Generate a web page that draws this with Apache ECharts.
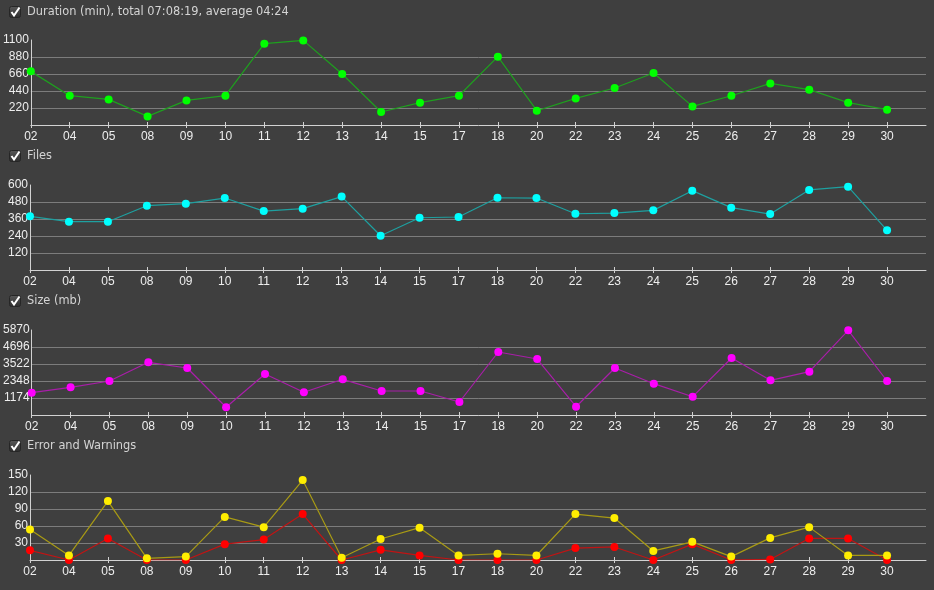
<!DOCTYPE html>
<html>
<head>
<meta charset="utf-8">
<script src="https://cdn.jsdelivr.net/npm/echarts@6/dist/echarts.min.js"></script>
<style>
html,body{margin:0;padding:0;background:#3f3f3f;}
#chart{width:934px;height:590px;}
</style>
</head>
<body>
<div id="chart"></div>
<script>
const categories = ['02','04','05','08','09','10','11','12','13','14','15','17','18','20','22','23','24','25','26','27','28','29','30'];
const durationValues = [694,379,331,111,318,379,1052,1095,660,168,289,379,884,185,344,479,673,241,379,538,457,289,198];
const filesValues = [379,341,341,454,468,508,416,433,518,242,369,374,510,508,397,402,421,560,440,395,565,588,280];
const sizeValues = [1540,1913,2348,3639,3246,532,2831,1568,2465,1657,1657,898,4351,3867,573,3246,2162,1264,3936,2396,2990,5849,2348];
const warningValues = [54,8,104,3,6,76,58,141,4,37,57,8,11,8,81,74,16,32,6,39,58,8,8];
const errorValues = [17,0,38,0,0,28,36,81,0,18,8,0,0,0,21,23,0,28,0,1,38,38,0];
const panelTitles = ['Duration (min), total 07:08:19, average 04:24','Files','Size (mb)','Error and Warnings'];
const durationTicks = {max:1100, interval:220};
const filesTicks = {max:600, interval:120};
const sizeTicks = {max:5870, interval:1174};
const errorTicks = {max:150, interval:30};

const axisCats = categories.concat(['']);
const panelTops = [40,185,330,475];
const titleY = [12,156,301,446];
const ticks = [durationTicks, filesTicks, sizeTicks, errorTicks];
const FONT = 'Liberation Sans';

const grids = [], xAxes = [], yAxes = [], graphics = [];
panelTops.forEach((t,i)=>{
  grids.push({left:30, right:8, top:t, height:85, containLabel:false});
  xAxes.push({
    type:'category', gridIndex:i, data:axisCats, boundaryGap:false, position:'bottom',
    axisLine:{show:true, lineStyle:{color:'#d2d2d2', width:1}},
    axisTick:{show:true, inside:false, length:3, lineStyle:{color:'#d2d2d2'},
      interval:(idx)=> idx < categories.length, alignWithLabel:true},
    axisLabel:{show:true, interval:0, color:'#eeeeee', fontSize:12, fontFamily:FONT, margin:6},
    splitLine:{show:false}
  });
  xAxes.push({
    type:'category', gridIndex:i, data:axisCats, boundaryGap:false, position:'bottom',
    axisLine:{show:false},
    axisTick:{show:true, inside:true, length:3, lineStyle:{color:'#d2d2d2'},
      interval:(idx)=> idx < categories.length},
    axisLabel:{show:false}, splitLine:{show:false}
  });
  yAxes.push({
    type:'value', gridIndex:i, min:0, max:ticks[i].max, interval:ticks[i].interval,
    axisLine:{show:true, lineStyle:{color:'#d2d2d2', width:1}},
    axisTick:{show:false},
    axisLabel:{color:'#eeeeee', fontSize:12, fontFamily:FONT, margin:2,
      formatter:(v)=> v===0 ? '' : String(v)},
    splitLine:{show:true, showMinLine:false, showMaxLine:false, lineStyle:{color:'#7c7c7c', width:1}}
  });
  // checkbox
  const by = titleY[i]-6;
  graphics.push({type:'rect', shape:{x:9.5, y:by+0.5, width:11, height:11, r:2},
    style:{fill:{type:'linear',x:0,y:0,x2:0,y2:1,colorStops:[{offset:0,color:'#5a5a5a'},{offset:1,color:'#2c2c2c'}]}, stroke:'#262626', lineWidth:1}});
  graphics.push({type:'polyline', shape:{points:[[11.5,by+6],[14,by+9.5],[19.5,by+1.5]]},
    style:{stroke:'#ffffff', lineWidth:2, fill:null}});
  graphics.push({type:'text', x:27, y:titleY[i], style:{text:panelTitles[i], fill:'#d4d4d4', font:'11.4px "DejaVu Sans"', verticalAlign:'middle', align:'left'}});
});

function mk(name, data, gi, lineColor, dotColor){
  return {name, type:'line', xAxisIndex:gi*2, yAxisIndex:gi, data,
    symbol:'circle', symbolSize:8, showAllSymbol:true,
    lineStyle:{color:lineColor, width:1.2}, itemStyle:{color:dotColor}, z:3};
}
const series = [
  mk('Duration', durationValues, 0, '#1ea01e', '#00ff00'),
  mk('Files', filesValues, 1, '#1ea0a0', '#00ffff'),
  mk('Size', sizeValues, 2, '#a81ea8', '#ff00ff'),
  mk('Errors', errorValues, 3, '#c01414', '#ff0000'),
  mk('Warnings', warningValues, 3, '#a89a14', '#ffee00')
];

const chart = echarts.init(document.getElementById('chart'), null, {renderer:'canvas'});
chart.setOption({
  backgroundColor:'#3f3f3f',
  animation:false,
  grid:grids, xAxis:xAxes, yAxis:yAxes, series,
  graphic:graphics
});
</script>
</body>
</html>
